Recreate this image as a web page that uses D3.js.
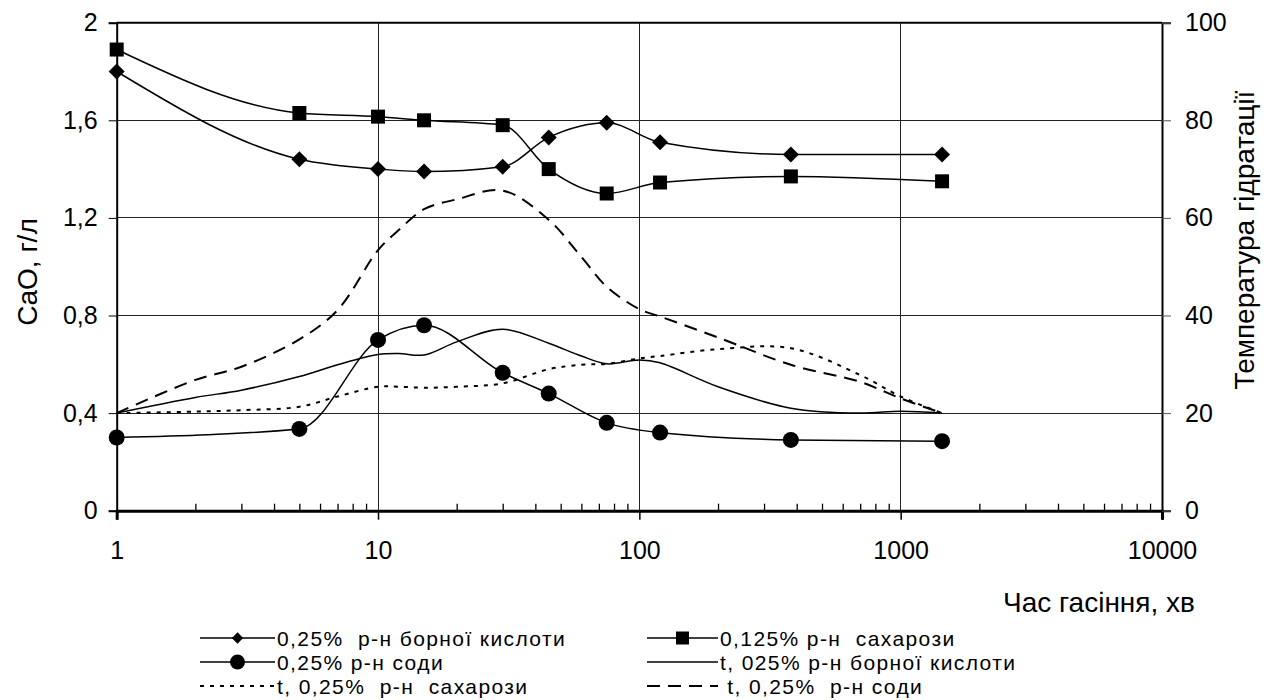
<!DOCTYPE html>
<html>
<head>
<meta charset="utf-8">
<script src="https://cdn.jsdelivr.net/npm/d3@7"></script>
<style>
  html, body { margin: 0; padding: 0; background: #fff; }
  text { font-family: "Liberation Sans", Arial, sans-serif; fill: #000; }
</style>
</head>
<body>
<div id="chart"></div>
<script>
// time of slaking, min (x positions of the marked series)
const minutes = [1, 5, 10, 15, 30, 45, 75, 120, 380, 1440];
// CaO, g/l
const boricCaO   = [1.80, 1.44, 1.40, 1.39, 1.41, 1.53, 1.59, 1.51, 1.46, 1.46];
const sucroseCaO = [1.89, 1.63, 1.615, 1.60, 1.58, 1.40, 1.30, 1.345, 1.37, 1.35];
const sodaCaO    = [0.30, 0.335, 0.70, 0.76, 0.565, 0.48, 0.36, 0.32, 0.29, 0.285];

// temperature curves
const tempMinutes = [1, 2, 3, 5, 7, 10, 12, 15, 20, 30, 45, 60, 75, 100, 120, 200, 380, 700, 1000, 1440];
const boricTemp   = [20, 23.2, 24.7, 27.5, 29.9, 32.0, 32.2, 31.9, 34.6, 37.2, 34.3, 31.7, 30.1, 30.9, 30.3, 25.4, 21.0, 20.0, 20.4, 20.0];
const sucroseTemp = [20, 20.3, 20.6, 21.3, 23.4, 25.4, 25.4, 25.2, 25.4, 26.1, 29.0, 29.9, 30.1, 31.2, 31.7, 33.1, 33.3, 27.8, 23.4, 20.0];
const sodaTemp    = [20, 26.8, 29.5, 35.1, 41.1, 53.4, 57.5, 61.8, 63.8, 65.6, 59.6, 52.0, 45.9, 41.3, 39.8, 35.5, 29.9, 26.4, 23.0, 20.0];

// axis ticks
const xTicks = [1, 10, 100, 1000, 10000];
const yLeftTicks = [0, 0.4, 0.8, 1.2, 1.6, 2];
const yRightTicks = [0, 20, 40, 60, 80, 100];

const legendNames = [
    "0,25%  р-н борної кислоти",
    "0,125% р-н  сахарози",
    "0,25% р-н соди",
    "t, 025% р-н борної кислоти",
    "t, 0,25%  р-н  сахарози",
    " t, 0,25%  р-н соди"
];

const chartWidth = 1272, chartHeight = 700;
const plotLeft = 116.7, plotRight = 1162, plotTop = 22.7, plotBottom = 510.7;
const fontFamily = "'Liberation Sans', Arial, sans-serif";

var svg = d3.select("#chart").append("svg")
    .attr("width", chartWidth).attr("height", chartHeight);

var x = d3.scaleLog().domain([1, 10000]).range([plotLeft, plotRight]);
var yL = d3.scaleLinear().domain([0, 2]).range([plotBottom, plotTop]);
var yR = d3.scaleLinear().domain([0, 100]).range([plotBottom, plotTop]);

function comma(d) { return String(d).replace(".", ","); }

// grid
svg.append("g").selectAll("line").data(yLeftTicks.slice(1, -1)).enter().append("line")
    .attr("x1", plotLeft).attr("x2", plotRight)
    .attr("y1", d => yL(d)).attr("y2", d => yL(d))
    .attr("stroke", "#222").attr("stroke-width", 1).attr("shape-rendering", "crispEdges");
svg.append("g").selectAll("line").data(xTicks.slice(1, -1)).enter().append("line")
    .attr("x1", d => x(d)).attr("x2", d => x(d))
    .attr("y1", plotTop).attr("y2", plotBottom)
    .attr("stroke", "#222").attr("stroke-width", 1).attr("shape-rendering", "crispEdges");

// minor ticks on x axis (inside)
var minor = [];
for (var dec = 1; dec < 10000; dec *= 10)
    for (var k = 2; k < 10; k++) minor.push(dec * k);

svg.append("g").attr("transform", "translate(0," + plotBottom + ")")
    .call(d3.axisBottom(x).tickValues(minor).tickSize(-7).tickFormat(""))
    .call(g => g.select(".domain").remove())
    .selectAll("line").attr("stroke", "#000").attr("stroke-width", 1.3);

// x axis
var gx = svg.append("g").attr("transform", "translate(0," + plotBottom + ")")
    .call(d3.axisBottom(x).tickValues(xTicks).tickSize(9).tickFormat(d => String(d)));
gx.select(".domain").attr("stroke-width", 3);
gx.selectAll("line").attr("stroke-width", 1.5);
gx.selectAll("text").attr("y", 40).attr("dy", "0.35em")
    .style("font-size", "25px").style("font-family", fontFamily);

// left axis
var gl = svg.append("g").attr("transform", "translate(" + plotLeft + ",0)")
    .call(d3.axisLeft(yL).tickValues(yLeftTicks).tickSize(8).tickPadding(11).tickFormat(comma));
gl.select(".domain").attr("stroke-width", 2);
gl.selectAll("text").style("font-size", "25px").style("font-family", fontFamily);

// right axis
var gr = svg.append("g").attr("transform", "translate(" + plotRight + ",0)")
    .call(d3.axisRight(yR).tickValues(yRightTicks).tickSize(9).tickPadding(14));
gr.select(".domain").attr("stroke-width", 2);
gr.selectAll("line").attr("stroke", "#555");
gr.selectAll("text").style("font-size", "25px").style("font-family", fontFamily);

// top border
svg.append("line").attr("x1", plotLeft).attr("x2", plotRight).attr("y1", plotTop).attr("y2", plotTop)
    .attr("stroke", "#000").attr("stroke-width", 2);

// axis titles
svg.append("text").attr("transform", "translate(27,272) rotate(-90)")
    .attr("text-anchor", "middle").attr("dominant-baseline", "central")
    .style("font-size", "28px").text("CaO, г/л");
svg.append("text").attr("transform", "translate(1244,240) rotate(-90)")
    .attr("text-anchor", "middle").attr("dominant-baseline", "central")
    .style("font-size", "28px").text("Температура гідратації");
svg.append("text").attr("x", 1003).attr("y", 612)
    .style("font-size", "28px").text("Час гасіння, хв");

// series
var series = [
    { xs: minutes, ys: boricCaO, y: yL, marker: "diamond", dash: null },
    { xs: minutes, ys: sucroseCaO, y: yL, marker: "square", dash: null },
    { xs: minutes, ys: sodaCaO, y: yL, marker: "circle", dash: null },
    { xs: tempMinutes, ys: boricTemp, y: yR, marker: null, dash: null },
    { xs: tempMinutes, ys: sucroseTemp, y: yR, marker: null, dash: "4,6" },
    { xs: tempMinutes, ys: sodaTemp, y: yR, marker: null, dash: "13,8" }
];

function markerPath(type, big) {
    if (type === "diamond") return d3.symbol(d3.symbolSquare, big ? 128 : 64)();
    if (type === "square") return d3.symbol(d3.symbolSquare, big ? 196 : 169)();
    return d3.symbol(d3.symbolCircle, big ? 201 : 177)();
}

series.forEach(function(s) {
    var pts = s.xs.map((m, i) => [x(m), s.y(s.ys[i])]);
    // marked series: monotone (no dips below flat stretches); temperature: catmull-rom
    var curve = s.marker ? d3.curveMonotoneX : d3.curveCatmullRom.alpha(0.5);
    svg.append("path")
        .attr("d", d3.line().curve(curve)(pts))
        .attr("fill", "none").attr("stroke", "#000")
        .attr("stroke-width", s.dash ? 2 : 1.5)
        .attr("stroke-dasharray", s.dash);
    if (s.marker) {
        svg.append("g").selectAll("path").data(pts).enter().append("path")
            .attr("d", markerPath(s.marker, true))
            .attr("transform", d => "translate(" + d[0] + "," + d[1] + ")" + (s.marker === "diamond" ? " rotate(45)" : ""))
            .attr("fill", "#000");
    }
});

// legend
var legendRows = [638, 662, 686];
var legendCols = [{ x1: 200, x2: 275, tx: 277 }, { x1: 647, x2: 718, tx: 720 }];
var lg = svg.append("g");
series.forEach(function(s, i) {
    var col = legendCols[i % 2], yy = legendRows[Math.floor(i / 2)];
    lg.append("line").attr("x1", col.x1).attr("x2", col.x2).attr("y1", yy).attr("y2", yy)
        .attr("stroke", "#000").attr("stroke-width", s.dash ? 2 : 1.5)
        .attr("stroke-dasharray", s.dash);
    if (s.marker) {
        lg.append("path").attr("d", markerPath(s.marker, false))
            .attr("transform", "translate(" + ((col.x1 + col.x2) / 2) + "," + yy + ")" + (s.marker === "diamond" ? " rotate(45)" : ""))
            .attr("fill", "#000");
    }
    lg.append("text").attr("x", col.tx).attr("y", yy).attr("dominant-baseline", "central")
        .attr("xml:space", "preserve").style("white-space", "pre")
        .style("font-size", "21px").style("letter-spacing", "1.4px").text(legendNames[i]);
});
</script>
</body>
</html>
